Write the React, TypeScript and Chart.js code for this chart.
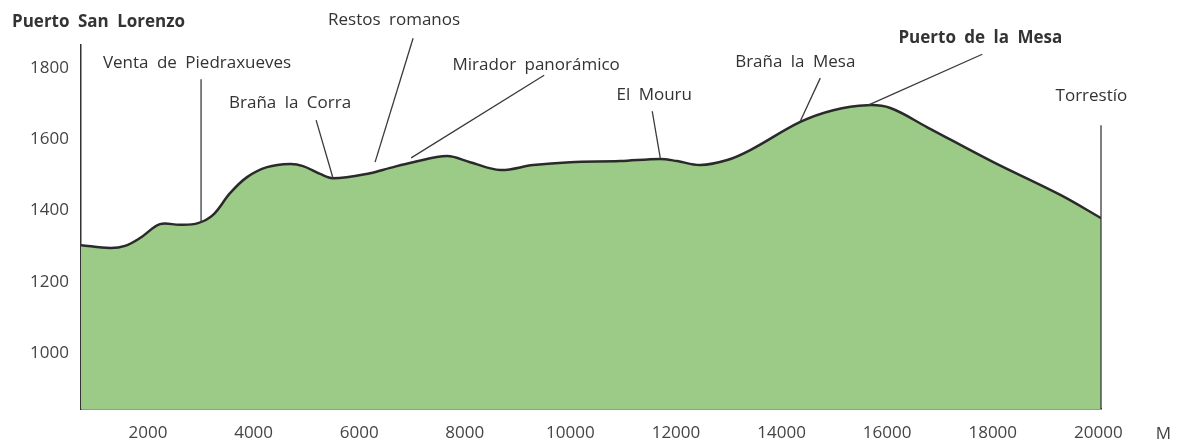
import React, { useEffect, useRef } from "react";
import { Chart, registerables } from "chart.js";
Chart.register(...registerables);

// Profile: distance (m) and elevation (m)
const distanceM = [731, 1280, 1565, 1849, 2228, 2607, 2948, 3232, 3554, 3876, 4255, 4691, 4937, 5259, 5505, 6207, 6585, 7021, 7665, 8101, 8670, 9295, 9996, 10943, 11702, 12023, 12459, 12971, 13407, 14354, 14979, 15623, 16060, 16760, 18011, 19280, 20050];
const elevationM = [1303, 1295, 1301, 1323, 1362, 1360, 1365, 1388, 1449, 1494, 1522, 1531, 1525, 1503, 1491, 1505, 1520, 1536, 1553, 1536, 1514, 1528, 1536, 1539, 1545, 1539, 1528, 1542, 1570, 1649, 1682, 1696, 1688, 1634, 1536, 1444, 1379];

const yTickValues = [1000, 1200, 1400, 1600, 1800];
const xTickValues = [2000, 4000, 6000, 8000, 10000, 12000, 14000, 16000, 18000, 20000];
const xRange = [731, 20050];
const yRange = [843, 1865];
const unitLabel = "M";
const unitAt = [21232, 772];

// Place annotations (data coordinates)
const placeNames = ["Puerto San Lorenzo", "Venta de Piedraxueves", "Braña la Corra", "Restos romanos", "Mirador panorámico", "El Mouru", "Braña la Mesa", "Puerto de la Mesa", "Torrestío"];
const placeBold = [true, false, false, false, false, false, false, true, false];
const placeLabelX = [1063, 2929, 4691, 6661, 9352, 11588, 14259, 17764, 19868];
const placeLabelY = [1929, 1814, 1702, 1935, 1808, 1724, 1817, 1884, 1721];
const leaderFromX = [null, 3005, 5184, 7021, 9503, 11550, 14733, 17802, 20050];
const leaderFromY = [null, 1769, 1654, 1884, 1780, 1679, 1772, 1839, 1640];
const leaderToX = [null, 3005, 5505, 6301, 6984, 11702, 14354, 15642, 20050];
const leaderToY = [null, 1368, 1491, 1536, 1548, 1548, 1651, 1696, 843];

const FONT = "'Open Sans', sans-serif";

const annotationPlugin = {
  id: "placeNames",
  afterDatasetsDraw(chart: any) {
    const { ctx, scales } = chart;
    const x = scales.x, y = scales.y;
    ctx.save();
    ctx.strokeStyle = "#3a3a3a";
    ctx.lineWidth = 1.3;
    for (let i = 0; i < placeNames.length; i++) {
      if (leaderFromX[i] == null) continue;
      ctx.beginPath();
      ctx.moveTo(x.getPixelForValue(leaderFromX[i]), y.getPixelForValue(leaderFromY[i]));
      ctx.lineTo(x.getPixelForValue(leaderToX[i]), y.getPixelForValue(leaderToY[i]));
      ctx.stroke();
    }
    ctx.textAlign = "center";
    ctx.textBaseline = "middle";
    ctx.fillStyle = "#333";
    (ctx as any).wordSpacing = "4px";
    for (let i = 0; i < placeNames.length; i++) {
      ctx.font = (placeBold[i] ? "bold " : "") + "17px " + FONT;
      ctx.fillText(placeNames[i], x.getPixelForValue(placeLabelX[i]), y.getPixelForValue(placeLabelY[i]));
    }
    (ctx as any).wordSpacing = "0px";
    ctx.font = "17px " + FONT;
    ctx.fillStyle = "#444";
    ctx.fillText(unitLabel, x.getPixelForValue(unitAt[0]), y.getPixelForValue(unitAt[1]));
    ctx.restore();
  },
};

export default function App() {
  const ref = useRef<HTMLCanvasElement>(null);
  useEffect(() => {
    document.body.style.margin = "0";
    const chart = new Chart(ref.current!, {
      type: "line",
      data: {
        datasets: [
          {
            data: distanceM.map((d, i) => ({ x: d, y: elevationM[i] })),
            borderColor: "#2a2a2a",
            borderWidth: 2.5,
            backgroundColor: "#9ccb88",
            fill: "start",
            pointRadius: 0,
            tension: 0.35,
          },
        ],
      },
      options: {
        responsive: false,
        animation: false,
        layout: { padding: { top: 45, right: 76, bottom: 0, left: 0 } },
        plugins: { legend: { display: false }, tooltip: { enabled: false }, title: { display: false } },
        scales: {
          x: {
            type: "linear",
            min: xRange[0],
            max: xRange[1],
            afterBuildTicks: (s: any) => { s.ticks = xTickValues.map((v) => ({ value: v })); },
            afterFit: (s: any) => { s.height = 34; },
            grid: { color: "rgba(0,0,0,0)", drawTicks: false },
            border: { display: true, color: "#333", width: 1.5 },
            ticks: { color: "#444", font: { family: FONT, size: 17 }, padding: 14, maxRotation: 0, autoSkip: false, callback: (v: any) => String(v) },
          },
          y: {
            type: "linear",
            min: yRange[0],
            max: yRange[1],
            afterBuildTicks: (s: any) => { s.ticks = yTickValues.map((v) => ({ value: v })); },
            afterFit: (s: any) => { s.width = 81; },
            grid: { color: "rgba(0,0,0,0)", drawTicks: false },
            border: { display: true, color: "#333", width: 1.5 },
            ticks: { color: "#444", font: { family: FONT, size: 17 }, padding: 12, callback: (v: any) => String(v) },
          },
        },
      },
      plugins: [annotationPlugin],
    });
    return () => chart.destroy();
  }, []);
  return (
    <div style={{ width: 1177, height: 443 }}>
      <canvas ref={ref} width={1177} height={443} style={{ display: "block" }} />
    </div>
  );
}
